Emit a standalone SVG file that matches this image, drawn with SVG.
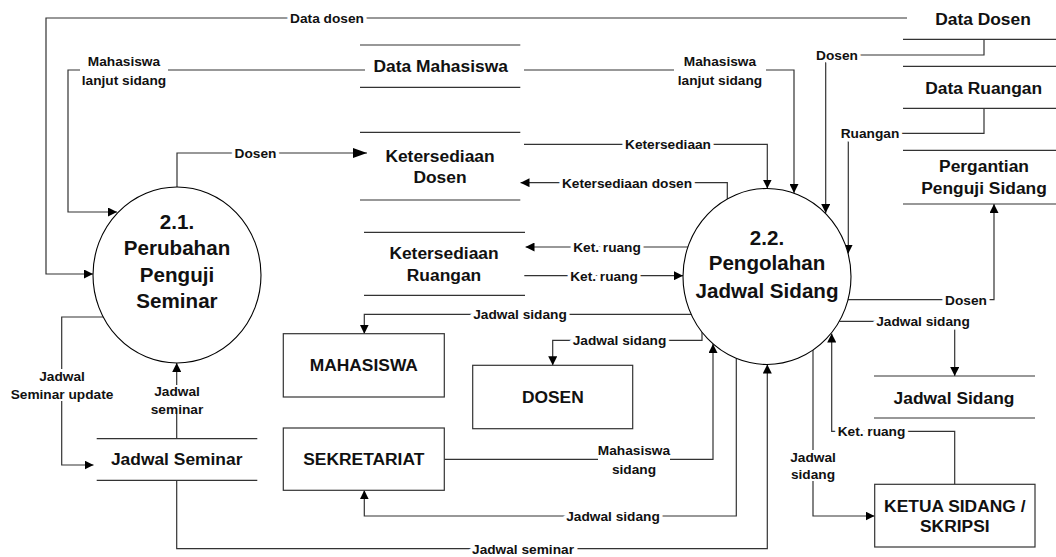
<svg xmlns="http://www.w3.org/2000/svg" width="1056" height="557" viewBox="0 0 1056 557">
<style>
.bg{fill:#fff}
.ln{fill:none;stroke:#333;stroke-width:1.2}
.st{fill:none;stroke:#333;stroke-width:1.2}
.bx{fill:#fff;stroke:#333;stroke-width:1.2}
.pr{fill:#fff;stroke:#000;stroke-width:1.1}
.lb{font-family:"Liberation Sans",Arial,sans-serif;font-weight:bold;font-size:13.7px;fill:#111;text-anchor:middle}
.hl{stroke:#fff;stroke-width:7;paint-order:stroke;stroke-linejoin:round}
.tx{font-family:"Liberation Sans",Arial,sans-serif;font-weight:bold;font-size:17.4px;fill:#111;text-anchor:middle}
.pt{font-family:"Liberation Sans",Arial,sans-serif;font-weight:bold;font-size:20.6px;fill:#111;text-anchor:middle}
</style>
<defs>
<marker id="ar" viewBox="0 0 10 10" refX="10" refY="5" markerWidth="9" markerHeight="9" markerUnits="userSpaceOnUse" orient="auto">
<path d="M0,0 L10,5 L0,10 z" fill="#000"/>
</marker>
<marker id="arb" viewBox="0 0 10 10" refX="10" refY="5" markerWidth="14" markerHeight="10" markerUnits="userSpaceOnUse" orient="auto" preserveAspectRatio="none">
<path d="M0,0 L10,5 L0,10 z" fill="#000"/>
</marker>
</defs>
<rect class="bg" x="0" y="0" width="1056" height="557"/>
<g id="connectors">
<path class="ln" d="M907 18 H46 V274 H93" marker-end="url(#ar)"/>
<path class="ln" d="M365 70 H168"/>
<path class="ln" d="M80 70 H68 V212 H117" marker-end="url(#ar)"/>
<path class="ln" d="M177 187 V153 H367" marker-end="url(#arb)"/>
<path class="ln" d="M524 70 H674"/>
<path class="ln" d="M766 70 H794 V193" marker-end="url(#ar)"/>
<path class="ln" d="M524 144.3 H767.3 V188.5" marker-end="url(#ar)"/>
<path class="ln" d="M727.3 199 V182.7 H520.5" marker-end="url(#ar)"/>
<path class="ln" d="M984 39.3 V55 H825.7 V213" marker-end="url(#ar)"/>
<path class="ln" d="M984 108.3 V133.3 H848.3 V253.5" marker-end="url(#ar)"/>
<path class="ln" d="M688 247 H525.5" marker-end="url(#ar)"/>
<path class="ln" d="M524.3 275.7 H683" marker-end="url(#ar)"/>
<path class="ln" d="M848 299.7 H994 V204" marker-end="url(#ar)"/>
<path class="ln" d="M691 314.3 H364.3 V333.7" marker-end="url(#ar)"/>
<path class="ln" d="M702 332 V340.3 H552.7 V365.3" marker-end="url(#ar)"/>
<path class="ln" d="M444.3 459.3 H598"/>
<path class="ln" d="M670 459.3 H713 V344" marker-end="url(#ar)"/>
<path class="ln" d="M736.3 358.4 V516 H364.3 V490.3" marker-end="url(#ar)"/>
<path class="ln" d="M176.7 480.3 V548.7 H767.3 V364.5" marker-end="url(#ar)"/>
<path class="ln" d="M103 317 H61.7 V369"/>
<path class="ln" d="M61.7 401 V465 H93.5" marker-end="url(#ar)"/>
<path class="ln" d="M176.7 438.7 V414"/>
<path class="ln" d="M176.7 385 V363" marker-end="url(#ar)"/>
<path class="ln" d="M839.3 321.3 H954.7 V376" marker-end="url(#ar)"/>
<path class="ln" d="M954.7 484.3 V431.3 H831.7 V333.5" marker-end="url(#ar)"/>
<path class="ln" d="M813 350 V450"/>
<path class="ln" d="M813 481 V516 H874.5" marker-end="url(#ar)"/>
<text class="lb hl" x="327" y="23">Data dosen</text>
<text class="lb" x="124" y="66">Mahasiswa</text>
<text class="lb" x="124" y="85">lanjut sidang</text>
<text class="lb hl" x="255.5" y="158">Dosen</text>
<text class="lb" x="720" y="66">Mahasiswa</text>
<text class="lb" x="720" y="85">lanjut sidang</text>
<text class="lb hl" x="668" y="149">Ketersediaan</text>
<text class="lb hl" x="627" y="188">Ketersediaan dosen</text>
<text class="lb hl" x="837" y="60">Dosen</text>
<text class="lb hl" x="870" y="138">Ruangan</text>
<text class="lb hl" x="607" y="252">Ket. ruang</text>
<text class="lb hl" x="604" y="281">Ket. ruang</text>
<text class="lb hl" x="966" y="305">Dosen</text>
<text class="lb hl" x="520" y="319">Jadwal sidang</text>
<text class="lb hl" x="619.5" y="345">Jadwal sidang</text>
<text class="lb" x="634" y="455">Mahasiswa</text>
<text class="lb" x="634" y="474">sidang</text>
<text class="lb hl" x="613" y="521">Jadwal sidang</text>
<text class="lb hl" x="523" y="554">Jadwal seminar</text>
<text class="lb" x="62" y="381">Jadwal</text>
<text class="lb" x="62" y="399">Seminar update</text>
<text class="lb" x="177" y="396">Jadwal</text>
<text class="lb" x="177" y="414">seminar</text>
<text class="lb hl" x="923" y="326">Jadwal sidang</text>
<text class="lb hl" x="871.5" y="436">Ket. ruang</text>
<text class="lb" x="813" y="462">Jadwal</text>
<text class="lb" x="813" y="479">sidang</text>
</g>
<g id="p21">
<ellipse class="pr" cx="177" cy="275" rx="84" ry="88"/>
<text class="pt" x="177" y="228.5">2.1.</text>
<text class="pt" x="177" y="255">Perubahan</text>
<text class="pt" x="177" y="281.5">Penguji</text>
<text class="pt" x="177" y="308">Seminar</text>
</g>
<g id="p22">
<ellipse class="pr" cx="767" cy="276.5" rx="84" ry="88"/>
<text class="pt" x="767" y="244.5">2.2.</text>
<text class="pt" x="767" y="270">Pengolahan</text>
<text class="pt" x="767" y="297.5">Jadwal Sidang</text>
</g>
<g id="ds-data-mahasiswa">
<line class="st" x1="360" y1="45" x2="520.3" y2="45"/>
<line class="st" x1="360" y1="87.3" x2="520.3" y2="87.3"/>
<text class="tx" x="440.7" y="72">Data Mahasiswa</text>
</g>
<g id="ds-ketersediaan-dosen">
<line class="st" x1="360" y1="132.3" x2="520.3" y2="132.3"/>
<line class="st" x1="360" y1="200" x2="520.3" y2="200"/>
<text class="tx" x="440" y="162">Ketersediaan</text>
<text class="tx" x="440" y="183">Dosen</text>
</g>
<g id="ds-ketersediaan-ruangan">
<line class="st" x1="364" y1="232.3" x2="525" y2="232.3"/>
<line class="st" x1="364" y1="295.3" x2="525" y2="295.3"/>
<text class="tx" x="444" y="258.5">Ketersediaan</text>
<text class="tx" x="444" y="281">Ruangan</text>
</g>
<g id="ds-data-dosen">
<line class="st" x1="903" y1="39.3" x2="1056" y2="39.3"/>
<text class="tx" x="983" y="24.5">Data Dosen</text>
</g>
<g id="ds-data-ruangan">
<line class="st" x1="903" y1="66.3" x2="1056" y2="66.3"/>
<line class="st" x1="903" y1="108.3" x2="1056" y2="108.3"/>
<text class="tx" x="983.7" y="93.5">Data Ruangan</text>
</g>
<g id="ds-pergantian">
<line class="st" x1="903" y1="150.3" x2="1056" y2="150.3"/>
<line class="st" x1="903" y1="204" x2="1056" y2="204"/>
<text class="tx" x="984" y="172">Pergantian</text>
<text class="tx" x="984" y="194">Penguji Sidang</text>
</g>
<g id="ds-jadwal-sidang">
<line class="st" x1="874" y1="376" x2="1035" y2="376"/>
<line class="st" x1="874" y1="418" x2="1035" y2="418"/>
<text class="tx" x="954" y="404">Jadwal Sidang</text>
</g>
<g id="ds-jadwal-seminar">
<line class="st" x1="96.7" y1="438.7" x2="257.3" y2="438.7"/>
<line class="st" x1="96.7" y1="480.3" x2="257.3" y2="480.3"/>
<text class="tx" x="176.7" y="465.2">Jadwal Seminar</text>
</g>
<g id="e-mahasiswa">
<rect class="bx" x="283.3" y="333.7" width="161" height="63.3"/>
<text class="tx" x="363.8" y="371.2">MAHASISWA</text>
</g>
<g id="e-sekretariat">
<rect class="bx" x="283.3" y="428" width="161" height="62.3"/>
<text class="tx" x="363.8" y="465">SEKRETARIAT</text>
</g>
<g id="e-dosen">
<rect class="bx" x="472.7" y="365.3" width="160" height="63.4"/>
<text class="tx" x="552.8" y="403.2">DOSEN</text>
</g>
<g id="e-ketua">
<rect class="bx" x="874.7" y="484.3" width="160.3" height="62.7"/>
<text class="tx" x="954.8" y="511.5">KETUA SIDANG /</text>
<text class="tx" x="954.8" y="531.5">SKRIPSI</text>
</g>
</svg>
